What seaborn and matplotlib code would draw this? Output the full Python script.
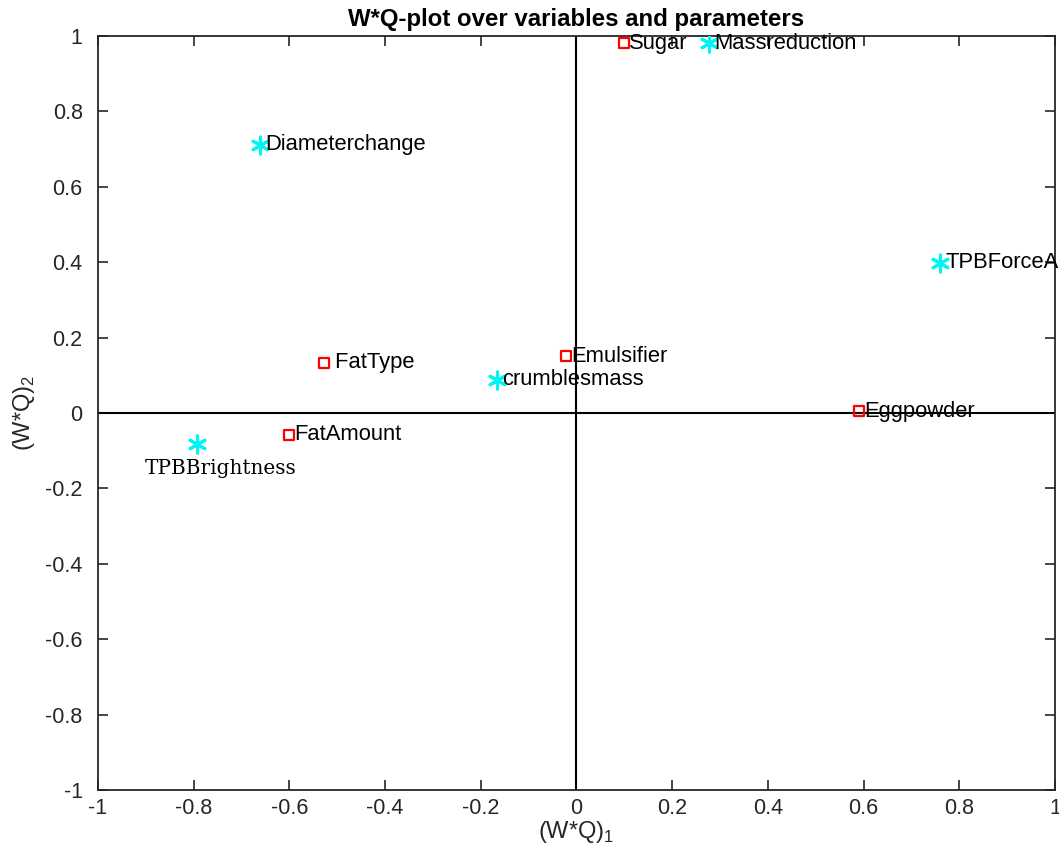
import matplotlib
matplotlib.use("Agg")
import matplotlib.pyplot as plt
import seaborn as sns
import pandas as pd

# Loadings of the response variables (asterisks)
var_names = ["Massreduction", "Diameterchange", "TPBForceA", "crumblesmass", "TPBBrightness"]
var_x = [0.277, -0.661, 0.760, -0.166, -0.793]
var_y = [0.981, 0.711, 0.398, 0.088, -0.082]

# Loadings of the design parameters (open squares)
par_names = ["Sugar", " FatType", "Emulsifier", "Eggpowder", "FatAmount"]
par_x = [0.099, -0.528, -0.022, 0.590, -0.601]
par_y = [0.981, 0.133, 0.151, 0.005, -0.058]

ticks = [-1, -0.8, -0.6, -0.4, -0.2, 0, 0.2, 0.4, 0.6, 0.8, 1]
tick_labels = ["-1", "-0.8", "-0.6", "-0.4", "-0.2", "0", "0.2", "0.4", "0.6", "0.8", "1"]

variables = pd.DataFrame({"name": var_names, "x": var_x, "y": var_y})
parameters = pd.DataFrame({"name": par_names, "x": par_x, "y": par_y})

sns.set_style("white")
plt.rcParams["font.family"] = ["Liberation Sans", "DejaVu Sans"]

fig = plt.figure(figsize=(10.59, 8.51), dpi=100)
ax = fig.add_axes([0.0925, 0.0717, 0.9037, 0.886])

axis_grey = "#262626"

ax.axhline(0, color="black", lw=1.5, zorder=1)
ax.axvline(0, color="black", lw=1.5, zorder=1)

star = (6, 2, 0)
sns.scatterplot(data=variables, x="x", y="y", marker=star, s=150,
                color="#00f5f5", linewidth=2.2, ax=ax, zorder=3)
sns.scatterplot(data=parameters, x="x", y="y", marker="s", s=55,
                color="red", facecolor="none", edgecolor="red",
                linewidth=1.6, ax=ax, zorder=3)

label_fs = 15.8
for _, r in parameters.iterrows():
    ax.annotate(r["name"], (r["x"], r["y"]), xytext=(4, 0),
                textcoords="offset points", ha="left", va="center",
                fontsize=label_fs, color="black", zorder=4)
for _, r in variables.iterrows():
    if r["name"] == "TPBBrightness":
        ax.annotate(r["name"], (r["x"], r["y"]), xytext=(-37.5, -17.5),
                    textcoords="offset points", ha="left", va="center",
                    fontsize=14.4, family="DejaVu Serif", color="black",
                    zorder=4)
    else:
        ax.annotate(r["name"], (r["x"], r["y"]), xytext=(4, 0),
                    textcoords="offset points", ha="left", va="center",
                    fontsize=label_fs, color="black", zorder=4,
                    annotation_clip=False)

ax.set_xlim(-1, 1)
ax.set_ylim(-1, 1)
ax.set_xticks(ticks)
ax.set_xticklabels(tick_labels)
ax.set_yticks(ticks)
ax.set_yticklabels(tick_labels)
ax.tick_params(direction="in", length=7, width=1.2, colors=axis_grey,
               labelsize=15.5, top=True, right=True, bottom=True, left=True)
ax.tick_params(axis="x", pad=6)
ax.tick_params(axis="y", pad=11)
for side in ax.spines.values():
    side.set_visible(True)
    side.set_color(axis_grey)
    side.set_linewidth(1.3)

ax.set_xlabel("(W*Q)$_\\mathregular{1}$", fontsize=17, color=axis_grey,
              labelpad=0)
ax.set_ylabel("(W*Q)$_\\mathregular{2}$", fontsize=17, color=axis_grey,
              labelpad=6)
ax.set_title("W*Q-plot over variables and parameters", fontsize=17.3,
             fontweight="bold", color="black", pad=7)

fig.savefig("out.png", dpi=100)
